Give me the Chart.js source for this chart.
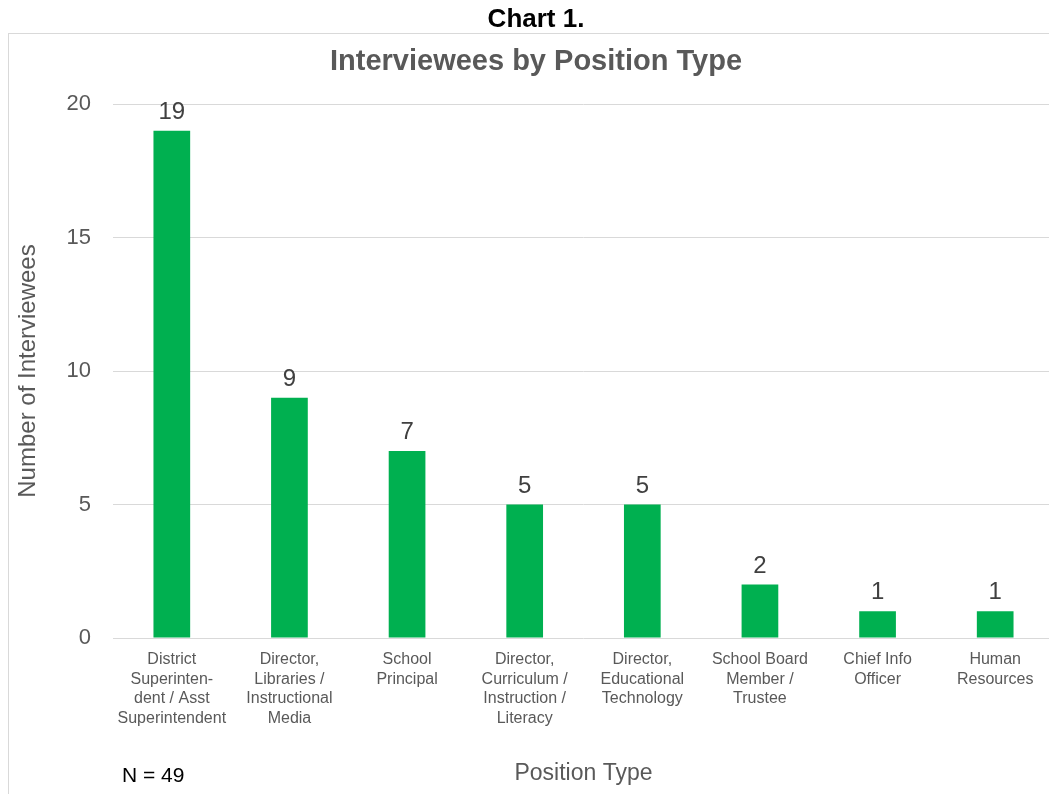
<!DOCTYPE html>
<html>
<head>
<meta charset="utf-8">
<script src="https://cdn.jsdelivr.net/npm/chart.js@4.4.0/dist/chart.umd.min.js"></script>
<style>
  html, body { margin: 0; padding: 0; background: #fff; overflow: hidden; }
  #wrap { position: relative; width: 1049px; height: 794px; overflow: hidden; }
  #frame { position: absolute; left: 8px; top: 33px; width: 1100px; height: 800px; border: 1px solid #d9d9d9; }
  #predictionChart { position: absolute; left: 0; top: 0; }
  #note { position: absolute; left: 122px; top: 764px; font: 21px "Liberation Sans", Arial, sans-serif; line-height: 21px; color: #000; }
</style>
</head>
<body>
<div id="wrap">
  <div id="frame"></div>
  <canvas id="predictionChart" width="1062" height="794"></canvas>
  <div id="note">N = 49</div>
</div>
<script>
// Chart data
const categories = [
  ['District', 'Superinten-', 'dent / Asst', 'Superintendent'],
  ['Director,', 'Libraries /', 'Instructional', 'Media'],
  ['School', 'Principal'],
  ['Director,', 'Curriculum /', 'Instruction /', 'Literacy'],
  ['Director,', 'Educational', 'Technology'],
  ['School Board', 'Member /', 'Trustee'],
  ['Chief Info', 'Officer'],
  ['Human', 'Resources']
];
const interviewees = [19, 9, 7, 5, 5, 2, 1, 1];
const yTicks = [0, 5, 10, 15, 20];

const FONT = "'Liberation Sans', Arial, sans-serif";
const GREY = '#595959';

// Draws the value above each bar
const valueLabels = {
  id: 'valueLabels',
  afterDatasetsDraw(chart) {
    const ctx = chart.ctx;
    const meta = chart.getDatasetMeta(0);
    ctx.save();
    ctx.font = '24px ' + FONT;
    ctx.fillStyle = '#404040';
    ctx.textAlign = 'center';
    ctx.textBaseline = 'alphabetic';
    meta.data.forEach((bar, i) => {
      ctx.fillText(String(interviewees[i]), bar.x, bar.y - 12);
    });
    ctx.restore();
  }
};

const ctx = document.getElementById('predictionChart').getContext('2d');
const chart = new Chart(ctx, {
  type: 'bar',
  data: {
    labels: categories,
    datasets: [{
      label: 'Number of Interviewees',
      data: interviewees,
      backgroundColor: '#00b050',
      borderWidth: 0,
      categoryPercentage: 1,
      barPercentage: 0.312
    }]
  },
  options: {
    responsive: false,
    animation: false,
    devicePixelRatio: 1,
    layout: { padding: { left: 18, right: 8, top: 0, bottom: 0 } },
    plugins: {
      legend: { display: false },
      tooltip: { enabled: false },
      title: {
        display: true,
        text: 'Chart 1.',
        color: '#000',
        font: { family: FONT, size: 26, weight: 'bold', lineHeight: 1.2 },
        padding: { top: 4.4, bottom: 0 }
      },
      subtitle: {
        display: true,
        text: 'Interviewees by Position Type',
        color: GREY,
        font: { family: FONT, size: 29, weight: 'bold', lineHeight: 1.2 },
        padding: { top: 9, bottom: 24.6 }
      }
    },
    scales: {
      x: {
        grid: { display: false },
        border: { display: false },
        ticks: {
          color: GREY,
          font: { family: FONT, size: 16, lineHeight: 1.22 },
          padding: 4,
          maxRotation: 0,
          minRotation: 0,
          autoSkip: false
        },
        title: {
          display: true,
          text: 'Position Type',
          color: GREY,
          font: { family: FONT, size: 23, lineHeight: 1.2 },
          padding: { top: 0, bottom: 6.2 }
        },
        afterFit(scale) { scale.height = 156; }
      },
      y: {
        min: 0,
        max: 20,
        afterBuildTicks(scale) { scale.ticks = yTicks.map(v => ({ value: v })); },
        grid: { color: '#d9d9d9', lineWidth: 1, drawTicks: false },
        border: { display: false },
        ticks: {
          color: GREY,
          font: { family: FONT, size: 22 },
          padding: 22
        },
        title: {
          display: true,
          text: 'Number of Interviewees',
          color: GREY,
          font: { family: FONT, size: 24, lineHeight: 0.83 },
          padding: { top: 0, bottom: 0 }
        },
        afterFit(scale) { scale.width = 95; }
      }
    }
  },
  plugins: [valueLabels]
});
</script>
</body>
</html>
